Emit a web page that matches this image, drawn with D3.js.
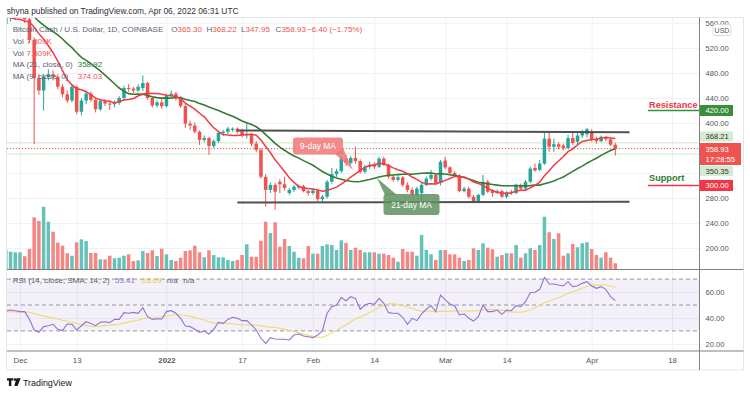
<!DOCTYPE html>
<html><head><meta charset="utf-8">
<script src="https://cdn.jsdelivr.net/npm/d3@7/dist/d3.min.js"></script>
<style>body{margin:0;background:#fff}svg{display:block;font-family:'Liberation Sans',Arial,sans-serif}</style>
</head><body><svg id="c" width="750" height="395"></svg>
<script>
// ---------------- DATA ----------------
const startDate = "2021-11-28"; // first visible daily candle
const open = [558,570,575,578,585,566,533,472,452,474,
 478,474,458,446,436,458,418,436,447,437,
 422,435,431,430,432,440,456,455,452,456,
 464,440,428,433,427,444,447,441,427,399,
 396,386,373,376,363,371,384,386,389,391,
 387,380,382,367,357,314,293,301,306,302,
 288,293,297,299,291,288,292,278,282,306,
 318,323,343,336,344,339,322,330,333,330,
 343,333,314,309,313,301,293,286,288,301,
 311,317,304,340,329,320,316,291,295,282,
 274,285,306,292,288,291,282,290,288,301,
 295,306,328,325,335,375,362,366,364,360,
 376,370,380,382,386,375,371,377,374,365.30];
const high = [575,588,595,605,592,580,537,478,478,486,
 484,478,462,452,462,460,440,452,450,440,
 438,438,436,436,443,460,462,458,462,476,
 466,442,436,440,447,452,450,443,430,404,
 401,388,380,378,374,386,389,394,393,393,
 391,400,384,371,360,318,305,304,310,314,
 296,301,302,301,293,295,294,285,309,328,
 327,346,348,347,362,342,333,338,337,346,
 346,335,317,316,315,305,297,298,304,314,
 325,320,341,346,331,323,318,298,298,285,
 287,317,309,294,294,293,291,293,303,303,
 309,330,335,341,386,386,375,369,367,381,
 384,385,389,392,390,378,380,379,377,368.22];
const low = [550,562,565,570,560,528,366,445,420,468,
 468,454,441,432,433,414,412,430,434,417,
 419,427,421,425,429,437,450,448,449,451,
 437,425,425,423,425,440,436,424,392,389,
 383,365,369,349,360,368,379,382,386,383,
 377,375,363,353,311,266,288,261,288,292,
 285,290,294,289,284,285,275,273,279,303,
 314,320,331,333,335,319,319,327,326,328,
 331,311,306,306,298,289,282,284,277,299,
 308,301,300,326,316,313,289,289,279,272,
 272,283,288,282,286,280,279,285,286,292,
 293,304,322,323,333,354,354,358,356,358,
 365,366,376,377,370,367,369,371,363,347.95];
const close = [570,575,578,585,566,533,472,452,474,478,
 474,458,446,436,458,418,436,447,437,422,
 435,431,430,432,440,456,455,452,458,464,
 440,428,433,427,444,447,441,427,399,396,
 386,373,376,363,371,384,386,391,391,386,
 380,382,367,357,314,293,301,290,302,296,
 293,298,299,291,288,292,278,282,306,318,
 323,343,336,344,339,322,330,333,330,343,
 333,314,309,313,301,293,286,295,301,311,
 317,304,338,329,320,316,291,295,282,274,
 285,306,290,288,291,282,289,288,301,295,
 306,327,324,335,375,362,366,362,360,376,
 368,380,385,390,374,371,378,374,365.33,358.93];
// volume in thousands (K)
const volume = [24.3,22.1,21.4,21.4,16.3,25.6,66.2,61.4,79.7,60.5,
 47.7,33.7,29.8,20.1,17.0,34.2,38.0,35.8,20.5,20.5,
 12.4,12.4,17.0,13.7,14.5,17.0,18.8,10.2,11.1,23.0,
 20.5,23.9,16.6,26.0,18.8,11.5,10.2,14.5,23.0,23.9,
 29.8,21.4,15.0,23.9,17.9,15.0,15.0,11.5,10.2,11.5,
 17.9,31.6,15.7,15.7,36.2,60.5,46.1,59.8,28.5,38.4,
 29.4,22.1,14.5,13.7,29.4,19.6,19.6,29.4,31.6,30.7,
 24.3,36.7,33.3,24.3,27.3,24.3,21.4,21.4,21.4,19.6,
 19.6,17.9,14.5,9.3,25.6,22.1,22.1,17.0,43.5,24.3,
 18.8,11.5,24.3,24.3,18.8,18.8,14.5,10.2,11.5,26.5,
 24.3,32.9,27.3,25.2,15.7,17.9,20.1,20.1,30.7,14.5,
 20.1,26.5,24.3,30.7,66.9,47.0,38.4,45.7,17.0,20.1,
 32.0,27.8,32.9,34.2,25.6,17.9,14.5,21.4,14.5,7.309];
const rsi = [45.6,46.1,45.6,44.9,44.9,38.9,30.7,28.9,33.3,34.0,
 35.1,31.2,30.2,35.3,35.1,30.7,34.0,37.1,35.8,34.0,
 36.6,37.1,36.4,38.9,38.9,44.1,43.6,44.3,43.6,47.9,
 41.0,38.9,39.4,39.2,44.9,45.6,43.6,39.7,33.8,33.3,
 31.2,28.9,29.9,27.6,31.2,36.6,35.8,38.9,40.5,39.7,
 37.9,37.9,34.6,30.7,24.3,20.4,24.8,23.7,23.5,23.5,
 23.0,26.8,27.6,26.1,25.5,24.8,26.8,30.2,43.6,48.7,
 50.0,55.7,53.3,56.4,55.1,46.7,50.0,51.3,50.5,55.1,
 51.3,44.1,43.6,43.6,40.5,35.1,39.7,37.9,43.1,46.7,
 49.5,44.9,57.7,53.9,50.8,49.5,42.3,43.1,39.7,37.6,
 41.0,50.0,44.9,44.9,46.1,42.8,46.1,45.6,49.5,48.7,
 52.6,59.5,59.8,62.1,71.4,66.2,66.2,65.4,64.7,68.0,
 64.2,64.9,66.7,68.0,64.7,62.9,64.2,62.1,56.4,53.41];
// closes / RSI readings before the first visible candle (needed by the moving averages)
const warmupCloses = [640,660,640,625,620,615,610,600,590,575,570,585,590,595,590,590,550,545,545,556];
const warmupRsi = [47.5,49.0,46.2,43.8,41.5,42.9,44.6,46.8,45.1,43.2,42.4,44.7,45.3];

const priceGridTicks = [200,240,280,320,360,400,440,480,520,560];
const priceLabelTicks = [200,240,280,400,440,480,520,560];
const rsiTicks = [20,40,60];
const rsiLevels = [70,50,30];
const timeTickDates = ["2021-12-01","2021-12-13","2022-01-01","2022-01-17","2022-02-01","2022-02-14","2022-03-01","2022-03-14","2022-04-01","2022-04-18"];
const timeTickLabels = ["Dec","13","2022","17","Feb","14","Mar","14","Apr","18"];

const headerText = "shyna published on TradingView.com, Apr 06, 2022 06:31 UTC";
const symbolTitle = "Bitcoin Cash / U.S. Dollar, 1D, COINBASE";
const maLegendValues = ["358.92","374.03"];
const rsiLegendTitle = "RSI (14, close, SMA, 14, 2)";
const rsiLegendValues = ["53.41","63.69","n/a","n/a"];

const highLine = 368.21, lowLine = 350.35;
const resistancePrice = 420, supportPrice = 300;
const channelUpper = [["2022-01-16",388.0],["2022-04-09",385.1]];
const channelLower = [["2022-01-16",272.8],["2022-04-09",274.1]];
const countdown = "17:28:55";

// ---------------- CHART ----------------
const svg = d3.select("#c");
const C_UP = "#26a69a", C_DN = "#ef5350";
const PL = 7, PR = 699.5, PT = 17.5, PM = 269.5, PB = 351, FR = 743.5, FB = 370;

const dates = open.map((d, i) => d3.utcDay.offset(new Date(startDate), i));
const x = d3.scaleUtc().domain([new Date("2021-12-01"), new Date("2022-04-18")]).range([20, 672]);
const y = d3.scaleLinear().domain([200, 560]).range([248, 23]);
const yv = d3.scaleLinear().domain([0, 80]).range([269, 206.5]);
const yr = d3.scaleLinear().domain([20, 70]).range([343.85, 279.1]);

const defs = svg.append("defs");
defs.append("clipPath").attr("id","mainClip").append("rect").attr("x",PL).attr("y",PT).attr("width",PR-PL).attr("height",PM-PT);
defs.append("clipPath").attr("id","rsiClip").append("rect").attr("x",PL).attr("y",PM).attr("width",PR-PL).attr("height",PB-PM);

svg.append("rect").attr("width",750).attr("height",395).attr("fill","#fff");

// grid
const gridCol = "#eef1f7";
const hg = svg.append("g").attr("transform",`translate(${PL},0)`)
  .call(d3.axisLeft(y).tickValues(priceGridTicks).tickSize(-(PR-PL)).tickFormat(""));
hg.select(".domain").remove(); hg.selectAll("line").attr("stroke",gridCol);
const rg = svg.append("g").attr("transform",`translate(${PL},0)`)
  .call(d3.axisLeft(yr).tickValues(rsiTicks).tickSize(-(PR-PL)).tickFormat(""));
rg.select(".domain").remove(); rg.selectAll("line").attr("stroke",gridCol);
const tickDates = timeTickDates.map(d => new Date(d));
const vg = svg.append("g").attr("transform",`translate(0,${PB})`)
  .call(d3.axisBottom(x).tickValues(tickDates).tickSize(-(PB-PT)).tickFormat(""));
vg.select(".domain").remove(); vg.selectAll("line").attr("stroke",gridCol);

// RSI band
const rsiG = svg.append("g").attr("clip-path","url(#rsiClip)");
rsiG.append("rect").attr("x",PL).attr("width",PR-PL).attr("y",yr(70)).attr("height",yr(30)-yr(70)).attr("fill","rgba(126,87,194,0.09)");
rsiG.selectAll("line.lvl").data(rsiLevels).join("line").attr("class","lvl")
  .attr("x1",PL).attr("x2",PR).attr("y1",d=>yr(d)).attr("y2",d=>yr(d))
  .attr("stroke","#8a8d96").attr("stroke-dasharray","4,3").attr("stroke-width",0.9);

// main pane
const main = svg.append("g").attr("clip-path","url(#mainClip)");
const bw = 3.5;
// volume
main.selectAll("rect.vol").data(volume).join("rect").attr("class","vol")
  .attr("x",(d,i)=>x(dates[i])-bw/2).attr("width",bw)
  .attr("y",d=>yv(d)).attr("height",d=>yv(0)-yv(d))
  .attr("fill",(d,i)=> close[i]>=open[i] ? "#67c1b8" : "#f48684");

// horizontal price lines
[highLine, lowLine].forEach(p => main.append("line").attr("x1",PL).attr("x2",PR).attr("y1",y(p)).attr("y2",y(p)).attr("stroke","#cfe6c9").attr("stroke-width",1));
main.append("line").attr("x1",PL).attr("x2",PR).attr("y1",y(close[close.length-1])).attr("y2",y(close[close.length-1]))
  .attr("stroke",C_DN).attr("stroke-dasharray","1,2").attr("stroke-width",1);

// candles
const cg = main.append("g");
cg.selectAll("line.wick").data(open).join("line").attr("class","wick")
  .attr("x1",(d,i)=>x(dates[i])).attr("x2",(d,i)=>x(dates[i]))
  .attr("y1",(d,i)=>y(high[i])).attr("y2",(d,i)=>y(low[i]))
  .attr("stroke",(d,i)=> close[i]>=open[i] ? C_UP : C_DN).attr("stroke-width",1);
cg.selectAll("rect.body").data(open).join("rect").attr("class","body")
  .attr("x",(d,i)=>x(dates[i])-bw/2).attr("width",bw)
  .attr("y",(d,i)=>y(Math.max(open[i],close[i])))
  .attr("height",(d,i)=>Math.max(1,Math.abs(y(open[i])-y(close[i]))))
  .attr("fill",(d,i)=> close[i]>=open[i] ? C_UP : C_DN);

// moving averages
const allCloses = warmupCloses.concat(close);
function sma(arr, n, offset, len){ return d3.range(len).map(i => d3.mean(arr.slice(i+offset-n+1, i+offset+1))); }
const ma21 = sma(allCloses, 21, warmupCloses.length, close.length);
const ma9 = sma(allCloses, 9, warmupCloses.length, close.length);
const line = d3.line().x((d,i)=>x(dates[i])).y(d=>y(d));
main.append("path").attr("d",line(ma21)).attr("fill","none").attr("stroke","#357a32").attr("stroke-width",1.6);
main.append("path").attr("d",line(ma9)).attr("fill","none").attr("stroke","#f23b45").attr("stroke-width",1.5);

// channel lines
[channelUpper, channelLower].forEach(seg => main.append("line")
  .attr("x1",x(new Date(seg[0][0]))).attr("y1",y(seg[0][1])).attr("x2",x(new Date(seg[1][0]))).attr("y2",y(seg[1][1]))
  .attr("stroke","#505050").attr("stroke-width",2));

// resistance / support rays
main.append("line").attr("x1",648).attr("x2",PR).attr("y1",y(resistancePrice)).attr("y2",y(resistancePrice)).attr("stroke","#388e3c").attr("stroke-width",1.6);
main.append("line").attr("x1",648).attr("x2",PR).attr("y1",y(supportPrice)).attr("y2",y(supportPrice)).attr("stroke","#f23645").attr("stroke-width",1.6);
main.append("text").attr("x",649).attr("y",y(resistancePrice)-2.5).text("Resistance").attr("font-size",9.2).attr("font-weight","bold").attr("fill","#f23645");
main.append("text").attr("x",649).attr("y",y(supportPrice)-5).text("Support").attr("font-size",9.2).attr("font-weight","bold").attr("fill","#2e7d32");

// MA callouts
function callout(bx,by,bw2,bh,tip,base,fill,label){
  const g = main.append("g");
  g.append("path").attr("d",`M${base[0]},${base[1]}L${tip[0]},${tip[1]}L${base[2]},${base[3]}Z`).attr("fill",fill);
  g.append("rect").attr("x",bx).attr("y",by).attr("width",bw2).attr("height",bh).attr("rx",3).attr("fill",fill);
  g.append("text").attr("x",bx+bw2/2).attr("y",by+bh/2+3).attr("text-anchor","middle").attr("fill","#fff").attr("font-size",8.4).text(label);
}
callout(293,137.5,50,17,[353,170],[335,154,343,148],"rgba(240,120,120,0.85)","9-day MA");
callout(383.5,194,56,21,[377,178],[385,195,397,195],"rgba(95,145,95,0.85)","21-day MA");

// RSI lines
const allRsi = warmupRsi.concat(rsi);
const rsiSma = sma(allRsi, 14, warmupRsi.length, rsi.length);
const rline = d3.line().x((d,i)=>x(dates[i])).y(d=>yr(d));
rsiG.append("path").attr("d",rline(rsiSma)).attr("fill","none").attr("stroke","#f3d872").attr("stroke-width",1.1);
rsiG.append("path").attr("d",rline(rsi)).attr("fill","none").attr("stroke","#9173d3").attr("stroke-width",1.1);

// frame & separators
const axCol = "#808080";
svg.append("rect").attr("x",6.5).attr("y",PT).attr("width",FR-6.5).attr("height",FB-PT).attr("fill","none").attr("stroke","#e3e6ec");
svg.append("line").attr("x1",PL).attr("x2",FR).attr("y1",PM).attr("y2",PM).attr("stroke",axCol);
svg.append("line").attr("x1",PL).attr("x2",FR).attr("y1",PB).attr("y2",PB).attr("stroke",axCol);
svg.append("line").attr("x1",PR).attr("x2",PR).attr("y1",PT).attr("y2",FB).attr("stroke",axCol);

// axes labels
const pa = svg.append("g").attr("transform",`translate(${PR},0)`)
  .call(d3.axisRight(y).tickValues(priceLabelTicks).tickFormat(d3.format(".2f")).tickSize(0).tickPadding(6));
pa.select(".domain").remove();
const ra = svg.append("g").attr("transform",`translate(${PR},0)`)
  .call(d3.axisRight(yr).tickValues(rsiTicks).tickFormat(d3.format(".2f")).tickSize(0).tickPadding(6));
ra.select(".domain").remove();
[pa, ra].forEach(a => a.selectAll("text").attr("font-size",7.6).attr("fill","#555").attr("font-family","'Liberation Sans',Arial,sans-serif"));
const ta = svg.append("g").attr("transform",`translate(0,${PB})`)
  .call(d3.axisBottom(x).tickValues(tickDates).tickFormat((d,i)=>timeTickLabels[i]).tickSize(0).tickPadding(6.5));
ta.select(".domain").remove();
ta.selectAll("text").attr("font-size",7.8).attr("fill","#555").attr("font-family","'Liberation Sans',Arial,sans-serif")
  .attr("font-weight",(d,i)=> timeTickLabels[i]==="2022" ? "bold" : "normal");

// USD box
svg.append("rect").attr("x",713).attr("y",24.5).attr("width",18).attr("height",11).attr("rx",2).attr("fill","#fff").attr("stroke","#d6d9e0");
svg.append("text").attr("x",722).attr("y",32.8).attr("text-anchor","middle").attr("font-size",7).attr("fill","#555").text("USD");

// price tags
function tag(yc, h, w, fill, col, lines){
  svg.append("rect").attr("x",PR+0.5).attr("y",yc-h/2).attr("width",w).attr("height",h).attr("fill",fill);
  lines.forEach((t,j)=> svg.append("text").attr("x",705.5).attr("y",yc-(lines.length-1)*5+j*10+2.8)
    .attr("font-size",7.6).attr("fill",col).text(t));
}
const f2 = d3.format(".2f");
tag(y(resistancePrice), 11, 33, "#388e3c", "#fff", [f2(resistancePrice)]);
tag(136.5, 10, 33, "#d4ebd0", "#333", [f2(highLine)]);
tag(154, 22, 41, "#ef5350", "#fff", [f2(close[close.length-1]), countdown]);
tag(171, 10, 33, "#d4ebd0", "#333", [f2(lowLine)]);
tag(y(supportPrice), 11, 33, "#f23645", "#fff", [f2(supportPrice)]);

// header & legends
function fit(t, w){ const l = t.node().getComputedTextLength(); const s = parseFloat(t.attr("font-size")); if (l>0) t.attr("font-size", s*w/l); return t; }
fit(svg.append("text").attr("x",6.7).attr("y",13.6).attr("font-size",9).attr("fill","#2a2e39").text(headerText), 232);
const leg = svg.append("g").attr("font-size",8).attr("fill","#5d606b");
fit(leg.append("text").attr("x",12.7).attr("y",32.1).attr("font-size",8).text(symbolTitle),151);
const last = close.length-1;
const ohlc = [["O",open[last],171.3],["H",high[last],206.5],["L",low[last],241],["C",close[last],275.6]];
ohlc.forEach(([k,v,px]) => { const t = leg.append("text").attr("x",px).attr("y",32.1).attr("font-size",8);
  t.append("tspan").text(k); t.append("tspan").attr("fill","#ef5350").text(f2(v)); });
const chg = close[last]-close[last-1];
leg.append("text").attr("x",307).attr("y",32.1).attr("font-size",8).attr("fill","#ef5350")
  .text(`${f2(chg)} (${f2(chg/close[last-1]*100)}%)`);
[44.3,55.5].forEach(py => { leg.append("text").attr("x",12.7).attr("y",py).text("Vol");
  leg.append("text").attr("x",26.5).attr("y",py).attr("fill","#ef5350").text(d3.format(".3f")(volume[last])+"K"); });
leg.append("text").attr("x",12.7).attr("y",66.9).text("MA (21, close, 0)");
leg.append("text").attr("x",77.7).attr("y",66.9).attr("fill","#2e7d32").text(maLegendValues[0]);
leg.append("text").attr("x",12.7).attr("y",78.8).text("MA (9, close, 0)");
leg.append("text").attr("x",77.7).attr("y",78.8).attr("fill","#ef5350").text(maLegendValues[1]);
leg.append("text").attr("x",12.7).attr("y",282.8).text(rsiLegendTitle);
const rsiCols = ["#8e6fd0","#e8c84a","#5d606b","#5d606b"];
[115,141.7,166.7,183.3].forEach((px,j)=> leg.append("text").attr("x",px).attr("y",282.8).attr("fill",rsiCols[j]).text(rsiLegendValues[j]));

// TradingView logo
const logo = svg.append("g").attr("fill","#131722");
logo.append("path").attr("d","M7,378.2h6.2v2.3h-1.9v5.6h-2.4v-5.6H7Z");
logo.append("circle").attr("cx",15).attr("cy",379.6).attr("r",1.3);
logo.append("path").attr("d","M16.5,378.2h4.2l-3.2,7.9h-3.2Z");
fit(svg.append("text").attr("x",23).attr("y",386).attr("font-size",9).attr("fill","#131722").text("TradingView"),49);
</script></body></html>
